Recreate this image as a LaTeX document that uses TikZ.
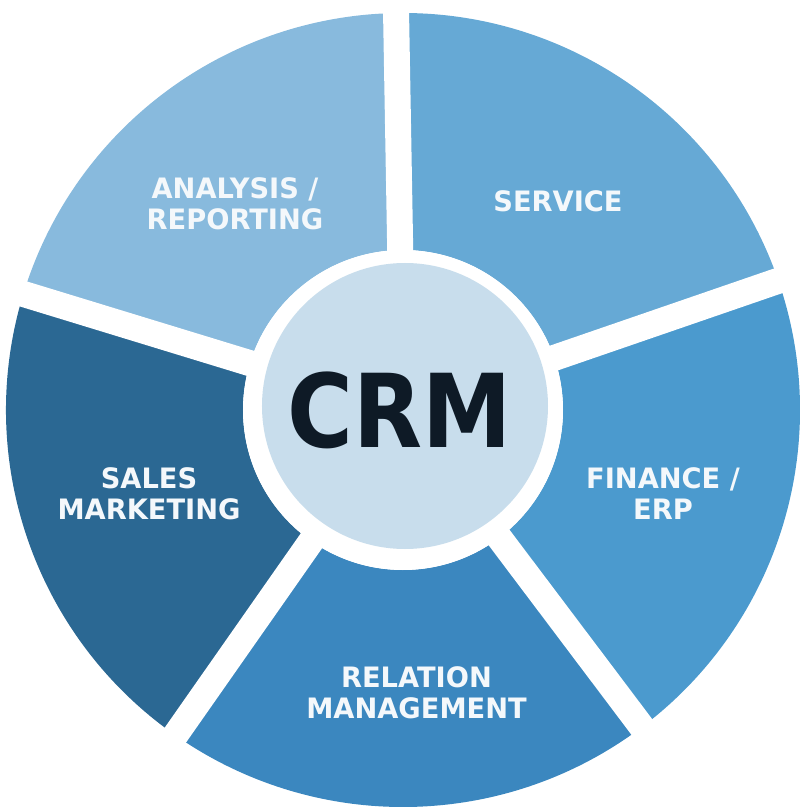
\documentclass[tikz,border=0pt]{standalone}
\usepackage{fontspec}
\setmainfont{DejaVu Sans}

\definecolor{analysisblue}{HTML}{88BADD}
\definecolor{serviceblue}{HTML}{66A9D5}
\definecolor{financeblue}{HTML}{4B9ACE}
\definecolor{relationblue}{HTML}{3B87BF}
\definecolor{salesblue}{HTML}{2B6893}
\definecolor{crmcore}{HTML}{C8DDEC}
\definecolor{crmtext}{HTML}{0E1A26}
\definecolor{labeltext}{HTML}{F4F8FB}

\begin{document}
\begin{tikzpicture}[
	seglabel/.style={text=labeltext, align=center, font=\bfseries\fontsize{16}{17.7}\selectfont,
	xscale=0.97, transform shape},
	corelabel/.style={text=crmtext, font=\bfseries\fontsize{58}{60}\selectfont,
	xscale=0.88, transform shape}]
		
		%Cornice
		\useasboundingbox (-8.06,-8.02) rectangle (7.94,8.2);
		
		%Settori
		\foreach \start/\col in {91/analysisblue, 19/serviceblue, -53/financeblue, -125/relationblue, 163/salesblue}{
			\fill[\col] (\start:3.2) -- (\start:7.94) arc[start angle=\start, end angle=\start+72, radius=7.94] 
			-- ({\start+72}:3.2) arc[start angle=\start+72, end angle=\start, radius=3.2] -- cycle;
		}
		
		%Spazi bianchi tra i settori
		\foreach \gap in {91,19,-53,-125,163}
			\draw[white, line width=0.52cm] (0,0) -- (\gap:8.0);
		
		%Rappresento il nodo centrale
		\node (core) at (0,0) [circle, fill=white, minimum size=6.4cm, inner sep=0pt]{};
		\node (crmdisc) at (0.04,0.08) [circle, fill=crmcore, minimum size=5.72cm, inner sep=0pt]{};
		\node (crm) at (-0.06,0) [corelabel]{CRM};
		
		%Etichette dei settori
		\node (analysis) at (-3.36,4.12) [seglabel]{ANALYSIS /\\REPORTING};
		\node (service) at (3.10,4.18) [seglabel]{SERVICE};
		\node (finance) at (5.20,-1.68) [seglabel]{FINANCE /\\ERP};
		\node (relation) at (0.27,-5.65) [seglabel]{RELATION\\MANAGEMENT};
		\node (sales) at (-5.08,-1.68) [seglabel]{SALES\\MARKETING};
		
		\end{tikzpicture}
\end{document}
